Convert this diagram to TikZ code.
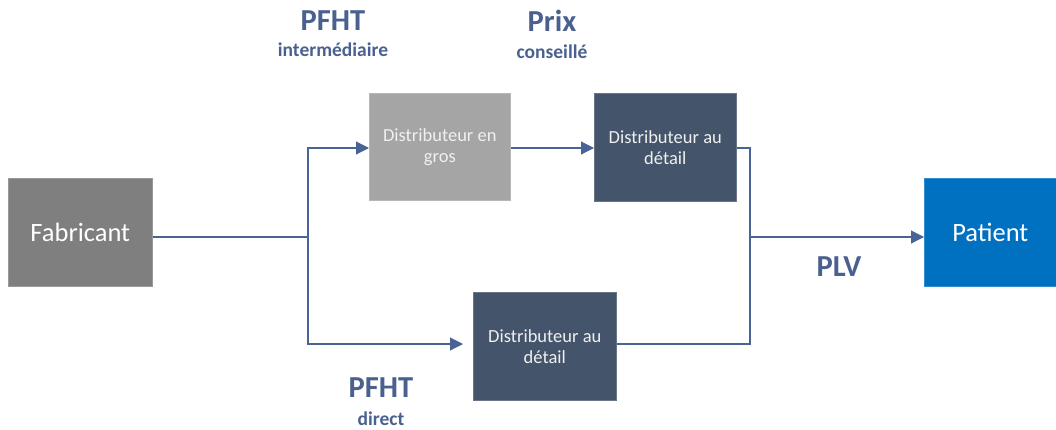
\documentclass[tikz,border=0pt]{standalone}
\usepackage{fontspec}
\setmainfont{Carlito}
\usetikzlibrary{arrows.meta}
\definecolor{linec}{HTML}{4A6396}
\definecolor{labc}{HTML}{4A6190}
\definecolor{fab}{HTML}{7F7F7F}
\definecolor{gros}{HTML}{A5A5A5}
\definecolor{det}{HTML}{44546A}
\definecolor{pat}{HTML}{0070C0}
\begin{document}
\begin{tikzpicture}[x=1pt,y=-1pt,
  box/.style={draw=#1!80!white,line width=0.6pt,fill=#1,inner sep=0pt,align=center,anchor=north west},
  inner/.style={text=white!88!gray,font=\fontsize{18.5}{21}\selectfont},
  outer/.style={text=white,font=\fontsize{26.5}{28}\selectfont},
  conn/.style={draw=linec,line width=1.1pt},
  arr/.style={conn,-{Triangle[length=13pt,width=13pt]}},
  big/.style={font=\bfseries\fontsize{30.5}{32}\selectfont,text=labc},
  small/.style={font=\bfseries\fontsize{19.5}{21}\selectfont,text=labc}]
\useasboundingbox (0,0) rectangle (1056,429);
\node[box=fab,minimum width=144pt,minimum height=108pt,outer] (fab) at (8,178) {Fabricant};
\node[box=gros,minimum width=141pt,minimum height=107pt,inner] (gros) at (369,93) {Distributeur en\\gros};
\node[box=det,minimum width=142pt,minimum height=108pt,inner] (det1) at (594,93) {Distributeur au\\détail};
\node[box=det,minimum width=143pt,minimum height=108pt,inner] (det2) at (473,292) {Distributeur au\\détail};
\node[box=pat,minimum width=140pt,minimum height=108pt,outer] (pat) at (924,178) {\hspace*{-8pt}Patient};
\coordinate (s) at (308,237);
\coordinate (m) at (750,237);
\coordinate (b) at (463,344);
\draw[conn] (fab.east |- s) -- (s);
\draw[arr] (s) |- (gros.west |- 0,148);
\draw[arr] (s) |- (b);
\draw[arr] (gros.east |- 0,148) -- (det1.west |- 0,148);
\draw[conn] (det1.east |- 0,148) -| (m);
\draw[conn] (det2.east |- b) -| (m);
\draw[arr] (m) -- (pat.west |- m);
\node[big] (l1) at (333,21) {PFHT};
\node[small] (l1s) at (333,50) {intermédiaire};
\node[big] (l2) at (552,21) {Prix};
\node[small] (l2s) at (552,52) {conseillé};
\node[big] (l3) at (839,267) {PLV};
\node[big] (l4) at (381,388) {PFHT};
\node[small] (l4s) at (381,419) {direct};
\end{tikzpicture}
\end{document}
